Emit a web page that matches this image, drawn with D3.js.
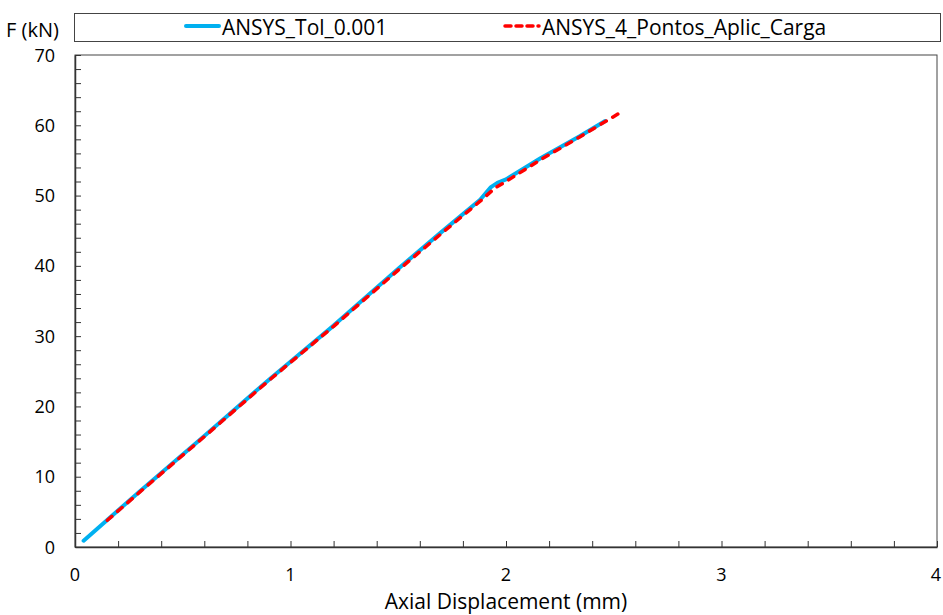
<!DOCTYPE html>
<html lang="en">
	<head>
		<meta charset="utf-8">
		<title>Axial displacement vs force</title>
		<script type="text/javascript" src="https://d3js.org/d3.v7.min.js"></script>
		<style type="text/css">
			body { margin: 0; background: #fff; }
			text { font-family: "Open Sans", "Liberation Sans", sans-serif; fill: #000; }
		</style>
	</head>
	<body>
		<script type="text/javascript">

			//Series names
			var seriesNames = ["ANSYS_Tol_0.001", "ANSYS_4_Pontos_Aplic_Carga"];

			//ANSYS_Tol_0.001 (displacement mm, force kN)
			var tolX = [0.04, 0.30, 0.60, 0.90, 1.20, 1.50, 1.70, 1.88, 1.93, 1.96, 2.00, 2.16, 2.34, 2.46];
			var tolF = [0.9, 7.9, 15.8, 23.8, 31.5, 39.6, 44.8, 49.4, 51.2, 51.8, 52.3, 55.3, 58.4, 60.6];

			//ANSYS_4_Pontos_Aplic_Carga
			var ptsX = [0.15, 0.30, 0.60, 0.90, 1.20, 1.50, 1.70, 1.88, 1.95, 2.00, 2.16, 2.34, 2.53];
			var ptsF = [3.8, 7.8, 15.7, 23.7, 31.4, 39.4, 44.6, 49.2, 51.1, 52.0, 55.1, 58.3, 61.8];

			//Axis ticks
			var xTicks = [0, 1, 2, 3, 4];
			var yTicks = [0, 10, 20, 30, 40, 50, 60, 70];

			var w = 943;
			var h = 615;
			var plotL = 75, plotR = 937, plotT = 55, plotB = 547;

			var xScale = d3.scaleLinear().domain([0, 4]).range([plotL, plotR]);
			var yScale = d3.scaleLinear().domain([0, 70]).range([plotB, plotT]);

			var svg = d3.select("body")
						.append("svg")
						.attr("width", w)
						.attr("height", h);

			//plot frame
			svg.append("rect")
				.attr("x", plotL)
				.attr("y", plotT)
				.attr("width", plotR - plotL)
				.attr("height", plotB - plotT)
				.attr("fill", "none")
				.attr("stroke", "#444")
				.attr("stroke-width", 1);

			//minor ticks, pointing inward
			var xAxis = d3.axisBottom(xScale)
				.tickValues(d3.range(0, 4.01, 0.2))
				.tickSizeInner(-6)
				.tickSizeOuter(0)
				.tickFormat("");
			svg.append("g")
				.attr("transform", "translate(0," + plotB + ")")
				.call(xAxis)
				.call(function(g){
					g.select(".domain").attr("stroke", "#333").attr("stroke-width", 1.5);
					g.selectAll(".tick line").attr("stroke", "#333");
				});

			var yAxis = d3.axisLeft(yScale)
				.tickValues(d3.range(0, 70.01, 2))
				.tickSizeInner(-6)
				.tickSizeOuter(0)
				.tickFormat("");
			svg.append("g")
				.attr("transform", "translate(" + plotL + ",0)")
				.call(yAxis)
				.call(function(g){
					g.select(".domain").attr("stroke", "#333").attr("stroke-width", 1.5);
					g.selectAll(".tick line").attr("stroke", "#333");
				});

			//tick labels
			svg.selectAll(".xlab")
				.data(xTicks)
				.enter()
				.append("text")
				.attr("class", "xlab")
				.attr("x", function(d){ return Math.min(xScale(d), 936); })
				.attr("y", 581)
				.attr("text-anchor", "middle")
				.attr("font-size", "18px")
				.text(function(d){ return d; });

			svg.selectAll(".ylab")
				.data(yTicks)
				.enter()
				.append("text")
				.attr("class", "ylab")
				.attr("x", 55)
				.attr("y", function(d){ return yScale(d) + 6.5; })
				.attr("text-anchor", "end")
				.attr("font-size", "18px")
				.text(function(d){ return d; });

			//axis titles
			svg.append("text")
				.attr("x", 506)
				.attr("y", 609)
				.attr("text-anchor", "middle")
				.attr("font-size", "21px")
				.text("Axial Displacement (mm)");

			svg.append("text")
				.attr("x", 6)
				.attr("y", 37)
				.attr("font-size", "20px")
				.text("F (kN)");

			//lines
			var line = d3.line()
				.x(function(d){ return xScale(d[0]); })
				.y(function(d){ return yScale(d[1]); });

			svg.append("path")
				.datum(d3.zip(tolX, tolF))
				.attr("d", line)
				.attr("fill", "none")
				.attr("stroke", "#00B0F0")
				.attr("stroke-width", 4)
				.attr("stroke-linecap", "round")
				.attr("stroke-linejoin", "round");

			svg.append("path")
				.datum(d3.zip(ptsX, ptsF))
				.attr("d", line)
				.attr("fill", "none")
				.attr("stroke", "#FF0000")
				.attr("stroke-width", 3.5)
				.attr("stroke-dasharray", "6,7.5")
				.attr("stroke-linecap", "round")
				.attr("stroke-linejoin", "round");

			//legend box
			svg.append("rect")
				.attr("x", 74.5)
				.attr("y", 13.5)
				.attr("width", 866)
				.attr("height", 28)
				.attr("fill", "#fff")
				.attr("stroke", "#444")
				.attr("stroke-width", 1);

			var legendItems = [
				{ name: seriesNames[0], x1: 186, x2: 219, color: "#00B0F0", dash: null, width: 4 },
				{ name: seriesNames[1], x1: 505, x2: 539, color: "#FF0000", dash: "6,5", width: 3.5 }
			];

			var leg = svg.selectAll(".leg")
				.data(legendItems)
				.enter()
				.append("g")
				.attr("class", "leg");

			leg.append("line")
				.attr("x1", function(d){ return d.x1; })
				.attr("x2", function(d){ return d.x2; })
				.attr("y1", 26)
				.attr("y2", 26)
				.attr("stroke", function(d){ return d.color; })
				.attr("stroke-width", function(d){ return d.width; })
				.attr("stroke-dasharray", function(d){ return d.dash; })
				.attr("stroke-linecap", "round");

			leg.append("text")
				.attr("x", function(d){ return d.x2 + 3; })
				.attr("y", 34.5)
				.attr("font-size", "21px")
				.text(function(d){ return d.name; });

		</script>
	</body>
</html>
